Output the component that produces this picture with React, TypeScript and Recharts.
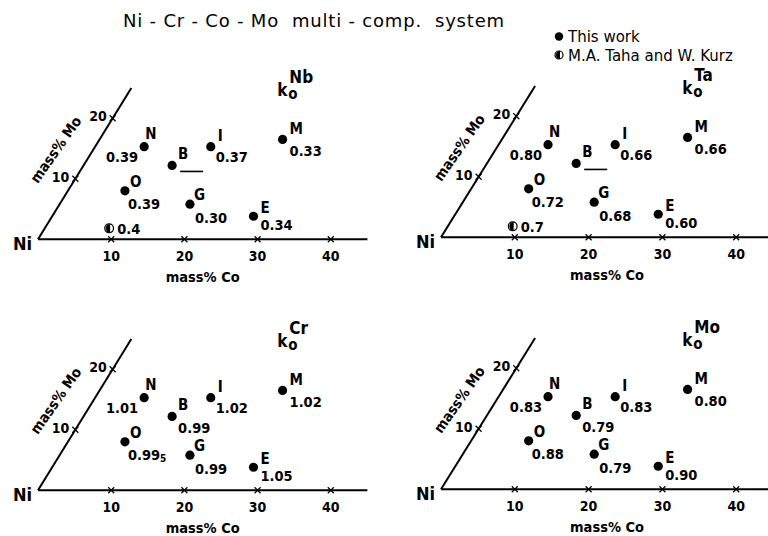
import React from "react";
import {
  ScatterChart,
  Scatter,
  XAxis,
  YAxis,
  ReferenceLine,
  ReferenceDot,
} from "recharts";

// alloys of the Ni-Cr-Co-Mo system (mass%)
const alloys = ["N", "B", "I", "M", "O", "G", "E"];
const coContent = [6.7, 12.1, 15.8, 25.0, 7.8, 17.8, 27.5];
const moContent = [15.3, 12.2, 15.3, 16.5, 8.0, 5.8, 3.8];

// equilibrium distribution coefficients, null = not measured
const kNb = [0.39, null, 0.37, 0.33, 0.39, 0.3, 0.34];
const kTa = [0.8, null, 0.66, 0.66, 0.72, 0.68, 0.6];
const kCr = [1.01, 0.99, 1.02, 1.02, 0.995, 0.99, 1.05];
const kMo = [0.83, 0.79, 0.83, 0.8, 0.88, 0.79, 0.9];

// M.A. Taha and W. Kurz
const tahaCo = 8.8;
const tahaMo = 1.8;
const tahaNb = 0.4;
const tahaTa = 0.7;

const coTicks = [10, 20, 30, 40];
const moTicks = [10, 20];

const FONT = "'DejaVu Sans Condensed', 'DejaVu Sans', sans-serif";
const SKEW = 0.51; // lean of the Mo axis
const SY = 6.05;
const X_MAX = 45;
const Y_MAX = 25;
const ML = 45;
const MT = 30;
const MR = 10;
const MB = 55;

// label placement around each dot: letter [dx, dy], value [dx, dy, anchor]
const labelLayout: Record<string, { letter: number[]; value: [number, number, string] }> = {
  N: { letter: [1, -8], value: [-6, 15, "end"] },
  B: { letter: [6, -6], value: [6, 17, "start"] },
  I: { letter: [7, -6], value: [5, 15, "start"] },
  M: { letter: [7, -5], value: [7, 16.5, "start"] },
  O: { letter: [5, -3.5], value: [3, 18, "start"] },
  G: { letter: [4, -4], value: [5, 19, "start"] },
  E: { letter: [7, -3.5], value: [7, 13.5, "start"] },
};

const formatK = (v: number) => {
  const milli = Math.round(v * 1000);
  if (milli % 10 !== 0) {
    const s = v.toFixed(3);
    return (
      <>
        {s.slice(0, -1)}
        <tspan fontSize={10} dy={2}>
          {s.slice(-1)}
        </tspan>
      </>
    );
  }
  return v.toFixed(2);
};

const renderAlloy = (p: any) => {
  const { cx, cy, payload } = p;
  const lay = labelLayout[payload.name];
  return (
    <g>
      <circle cx={cx} cy={cy} r={4.6} fill="#000" />
      <text
        x={cx + lay.letter[0]}
        y={cy + lay.letter[1]}
        fontSize={15}
        fontWeight="bold"
        fontFamily={FONT}
        fill="#000"
      >
        {payload.name}
      </text>
      {payload.k === null ? (
        <line x1={cx + 8} x2={cx + 31} y1={cy + 6} y2={cy + 6} stroke="#000" strokeWidth={1.6} />
      ) : (
        <text
          x={cx + lay.value[0]}
          y={cy + lay.value[1]}
          textAnchor={lay.value[2] as any}
          fontSize={14.5}
          fontWeight="bold"
          fontFamily={FONT}
          fill="#000"
        >
          {formatK(payload.k)}
        </text>
      )}
    </g>
  );
};

const renderTaha = (p: any) => {
  const { cx, cy, payload } = p;
  const r = 4.4;
  return (
    <g>
      <circle cx={cx} cy={cy} r={r} fill="#fff" stroke="#000" strokeWidth={1.2} />
      <path d={`M${cx + 1},${cy - r} A${r},${r} 0 0 0 ${cx + 1},${cy + r} Z`} fill="#000" />
      <text x={cx + 8} y={cy + 5.5} fontSize={14.5} fontWeight="bold" fontFamily={FONT} fill="#000">
        {String(payload.k)}
      </text>
    </g>
  );
};

const renderCoTick = (p: any) => {
  const { cx, cy, payload } = p;
  return (
    <g>
      <path d={`M${cx - 3},${cy - 3}L${cx + 3},${cy + 3}M${cx + 3},${cy - 3}L${cx - 3},${cy + 3}`} stroke="#000" strokeWidth={1.2} />
      <text x={cx} y={cy + 22} textAnchor="middle" fontSize={14} fontWeight="bold" fontFamily={FONT} fill="#000">
        {payload.label}
      </text>
    </g>
  );
};

const renderMoTick = (p: any) => {
  const { cx, cy, payload } = p;
  return (
    <g>
      <path d={`M${cx - 3},${cy - 3}L${cx + 3},${cy + 3}M${cx + 3},${cy - 3}L${cx - 3},${cy + 3}`} stroke="#000" strokeWidth={1.2} />
      <text x={cx - 6} y={cy + 3} textAnchor="end" fontSize={14} fontWeight="bold" fontFamily={FONT} fill="#000">
        {payload.label}
      </text>
    </g>
  );
};

interface PanelProps {
  x0: number;
  y0: number;
  sx: number;
  element: string;
  values: (number | null)[];
  taha?: number;
}

function Panel({ x0, y0, sx, element, values, taha }: PanelProps) {
  const plotW = X_MAX * sx;
  const plotH = Y_MAX * SY;
  const width = ML + plotW + MR;
  const height = MT + plotH + MB;

  const points = alloys.map((name, i) => ({
    x: coContent[i] + SKEW * moContent[i],
    y: moContent[i],
    name,
    k: values[i],
  }));
  const tahaPts = taha === undefined ? [] : [{ x: tahaCo + SKEW * tahaMo, y: tahaMo, k: taha }];
  const coTickPts = coTicks.map((v) => ({ x: v, y: 0, label: String(v) }));
  const moTickPts = moTicks.map((v) => ({ x: SKEW * v, y: v, label: String(v) }));

  return (
    <div style={{ position: "absolute", left: x0 - ML, top: y0 - plotH - MT }}>
      <ScatterChart width={width} height={height} margin={{ top: MT, right: MR, bottom: MB, left: ML }}>
        <XAxis type="number" dataKey="x" domain={[0, X_MAX]} hide />
        <YAxis type="number" dataKey="y" domain={[0, Y_MAX]} hide />
        <ReferenceLine
          segment={[{ x: 0, y: 0 }, { x: X_MAX, y: 0 }]}
          stroke="#000"
          strokeWidth={2}
          ifOverflow="visible"
        />
        <ReferenceLine
          segment={[{ x: 0, y: 0 }, { x: SKEW * Y_MAX, y: Y_MAX }]}
          stroke="#000"
          strokeWidth={2}
          ifOverflow="visible"
        />
        <ReferenceDot
          x={0}
          y={0}
          r={0}
          ifOverflow="visible"
          shape={(p: any) => (
            <text x={p.cx - 6} y={p.cy + 11} textAnchor="end" fontSize={18} fontWeight="bold" fontFamily={FONT} fill="#000">
              Ni
            </text>
          )}
        />
        <ReferenceDot
          x={X_MAX / 2}
          y={0}
          r={0}
          ifOverflow="visible"
          shape={(p: any) => (
            <text x={p.cx} y={p.cy + 43} textAnchor="middle" fontSize={14.5} fontWeight="bold" fontFamily={FONT} fill="#000">
              mass% Co
            </text>
          )}
        />
        <ReferenceDot
          x={SKEW * 15}
          y={15}
          r={0}
          ifOverflow="visible"
          shape={(p: any) => (
            <text
              x={p.cx - 34}
              y={p.cy + 4}
              textAnchor="middle"
              transform={`rotate(-55, ${p.cx - 34}, ${p.cy + 4})`}
              fontSize={14.5}
              fontWeight="bold"
              fontFamily={FONT}
              fill="#000"
            >
              mass% Mo
            </text>
          )}
        />
        <ReferenceDot
          x={32.7}
          y={23.6}
          r={0}
          ifOverflow="visible"
          shape={(p: any) => (
            <text fontFamily={FONT} fill="#000" fontWeight="bold">
              <tspan x={p.cx} y={p.cy} fontSize={17}>k</tspan>
              <tspan x={p.cx + 11} y={p.cy + 3} fontSize={15}>o</tspan>
              <tspan x={p.cx + 12} y={p.cy - 13} fontSize={17}>{element}</tspan>
            </text>
          )}
        />
        <Scatter data={coTickPts} shape={renderCoTick} isAnimationActive={false} />
        <Scatter data={moTickPts} shape={renderMoTick} isAnimationActive={false} />
        <Scatter data={points} shape={renderAlloy} isAnimationActive={false} />
        {taha !== undefined && <Scatter data={tahaPts} shape={renderTaha} isAnimationActive={false} />}
      </ScatterChart>
    </div>
  );
}

export default function App() {
  return (
    <div
      style={{
        position: "absolute",
        left: 0,
        top: 0,
        width: 768,
        height: 536,
        background: "#fff",
        overflow: "hidden",
        fontFamily: FONT,
      }}
    >
      <div
        style={{
          position: "absolute",
          left: 123,
          top: 10,
          fontSize: 18,
          letterSpacing: 0.8,
          whiteSpace: "pre",
          fontFamily: "'DejaVu Sans', sans-serif",
          color: "#000",
        }}
      >
        {"Ni - Cr - Co - Mo  multi - comp.  system"}
      </div>
      <svg style={{ position: "absolute", left: 550, top: 26 }} width={218} height={40}>
        <circle cx={9} cy={10.5} r={4.2} fill="#000" />
        <text x={18} y={16} fontSize={15} fontFamily="'DejaVu Sans', sans-serif" fill="#000">
          This work
        </text>
        <circle cx={9} cy={29} r={4} fill="#fff" stroke="#000" strokeWidth={1.2} />
        <path d="M10,25 A4,4 0 0 0 10,33 Z" fill="#000" />
        <text x={18} y={34.5} fontSize={15} fontFamily="'DejaVu Sans', sans-serif" fill="#000">
          M.A. Taha and W. Kurz
        </text>
      </svg>
      <Panel x0={38} y0={239} sx={7.32} element="Nb" values={kNb} taha={tahaNb} />
      <Panel x0={441} y0={237.3} sx={7.38} element="Ta" values={kTa} taha={tahaTa} />
      <Panel x0={38} y0={490.7} sx={7.32} element="Cr" values={kCr} />
      <Panel x0={441} y0={489.3} sx={7.38} element="Mo" values={kMo} />
    </div>
  );
}
